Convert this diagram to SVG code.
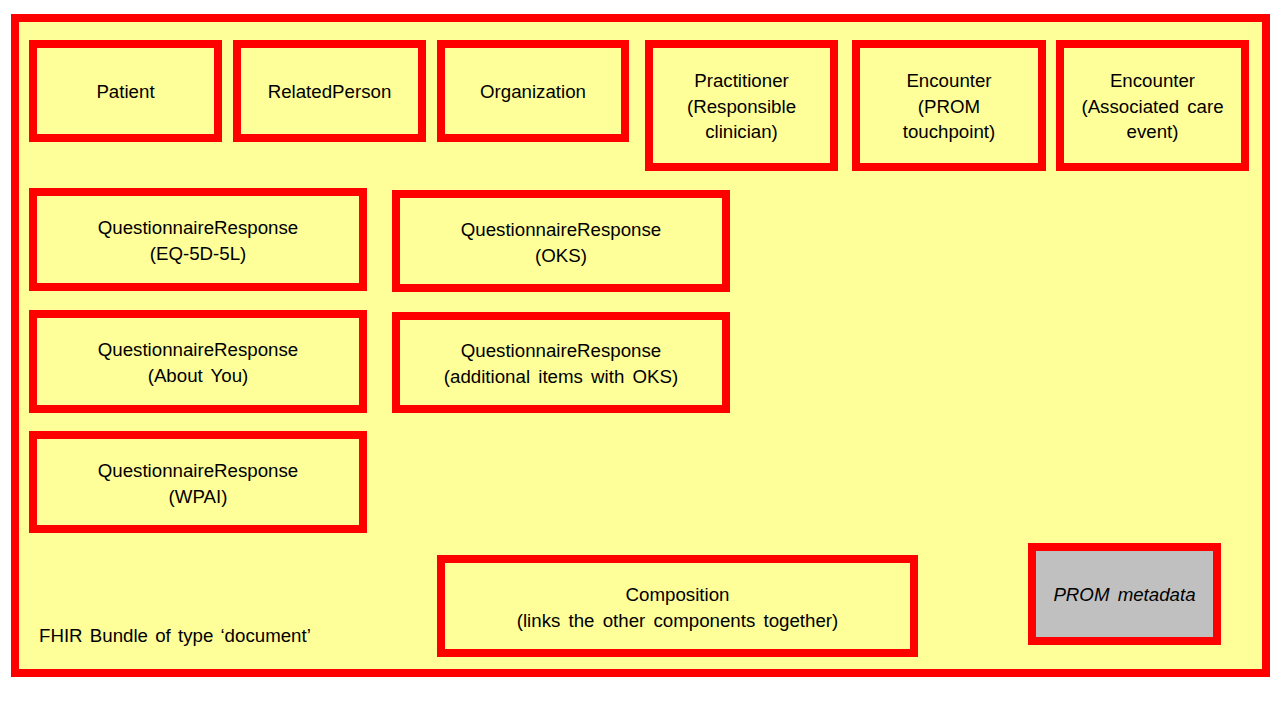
<svg xmlns="http://www.w3.org/2000/svg" width="1280" height="720" viewBox="0 0 1280 720">
  <style>
    .frame { fill: #FFFF99; stroke: #FF0000; stroke-width: 8; }
    .box { fill: #FFFF99; stroke: #FF0000; stroke-width: 8; }
    .grey { fill: #C0C0C0; stroke: #FF0000; stroke-width: 8; }
    .lbl { font-family: "Liberation Sans", Arial, sans-serif; font-size: 18.7px; fill: #000000; text-anchor: middle; word-spacing: 3px; }
    .it { font-style: italic; }
    .cap { font-family: "Liberation Sans", Arial, sans-serif; font-size: 18.7px; fill: #000000; word-spacing: 2px; }
  </style>
  <rect x="0" y="0" width="1280" height="720" fill="#FFFFFF"/>
  <g id="bundle">
    <rect class="frame" x="15" y="18" width="1251" height="655"/>
    <text class="cap" x="39" y="641.5">FHIR Bundle of type ‘document’</text>
  </g>
  <g id="patient">
    <rect class="box" x="33" y="44" width="185" height="94"/>
    <text class="lbl" x="125.5" y="98">Patient</text>
  </g>
  <g id="relatedperson">
    <rect class="box" x="237" y="44" width="185" height="94"/>
    <text class="lbl" x="329.5" y="98">RelatedPerson</text>
  </g>
  <g id="organization">
    <rect class="box" x="441" y="44" width="184" height="94"/>
    <text class="lbl" x="533" y="98">Organization</text>
  </g>
  <g id="practitioner">
    <rect class="box" x="649" y="44" width="185" height="123"/>
    <text class="lbl" x="741.5" y="86.7">Practitioner</text>
    <text class="lbl" x="741.5" y="112.5">(Responsible</text>
    <text class="lbl" x="741.5" y="138.3">clinician)</text>
  </g>
  <g id="encounter-prom">
    <rect class="box" x="856" y="44" width="186" height="123"/>
    <text class="lbl" x="949" y="86.7">Encounter</text>
    <text class="lbl" x="949" y="112.5">(PROM</text>
    <text class="lbl" x="949" y="138.3">touchpoint)</text>
  </g>
  <g id="encounter-care">
    <rect class="box" x="1060" y="44" width="185" height="123"/>
    <text class="lbl" x="1152.5" y="86.7">Encounter</text>
    <text class="lbl" x="1152.5" y="112.5">(Associated care</text>
    <text class="lbl" x="1152.5" y="138.3">event)</text>
  </g>
  <g id="qr-eq5d5l">
    <rect class="box" x="33" y="192" width="330" height="95"/>
    <text class="lbl" x="198" y="234">QuestionnaireResponse</text>
    <text class="lbl" x="198" y="260">(EQ-5D-5L)</text>
  </g>
  <g id="qr-oks">
    <rect class="box" x="396" y="194" width="330" height="94"/>
    <text class="lbl" x="561" y="235.5">QuestionnaireResponse</text>
    <text class="lbl" x="561" y="261.5">(OKS)</text>
  </g>
  <g id="qr-aboutyou">
    <rect class="box" x="33" y="314" width="330" height="95"/>
    <text class="lbl" x="198" y="356">QuestionnaireResponse</text>
    <text class="lbl" x="198" y="382">(About You)</text>
  </g>
  <g id="qr-additional">
    <rect class="box" x="396" y="316" width="330" height="93"/>
    <text class="lbl" x="561" y="356.5">QuestionnaireResponse</text>
    <text class="lbl" x="561" y="382.5">(additional items with OKS)</text>
  </g>
  <g id="qr-wpai">
    <rect class="box" x="33" y="435" width="330" height="94"/>
    <text class="lbl" x="198" y="476.5">QuestionnaireResponse</text>
    <text class="lbl" x="198" y="502.5">(WPAI)</text>
  </g>
  <g id="composition">
    <rect class="box" x="441" y="559" width="473" height="94"/>
    <text class="lbl" x="677.5" y="600.5">Composition</text>
    <text class="lbl" x="677.5" y="626.5">(links the other components together)</text>
  </g>
  <g id="prom-metadata">
    <rect class="grey" x="1032" y="547" width="185" height="94"/>
    <text class="lbl it" x="1124.5" y="601">PROM metadata</text>
  </g>
  <g id="connectors"></g>
</svg>
